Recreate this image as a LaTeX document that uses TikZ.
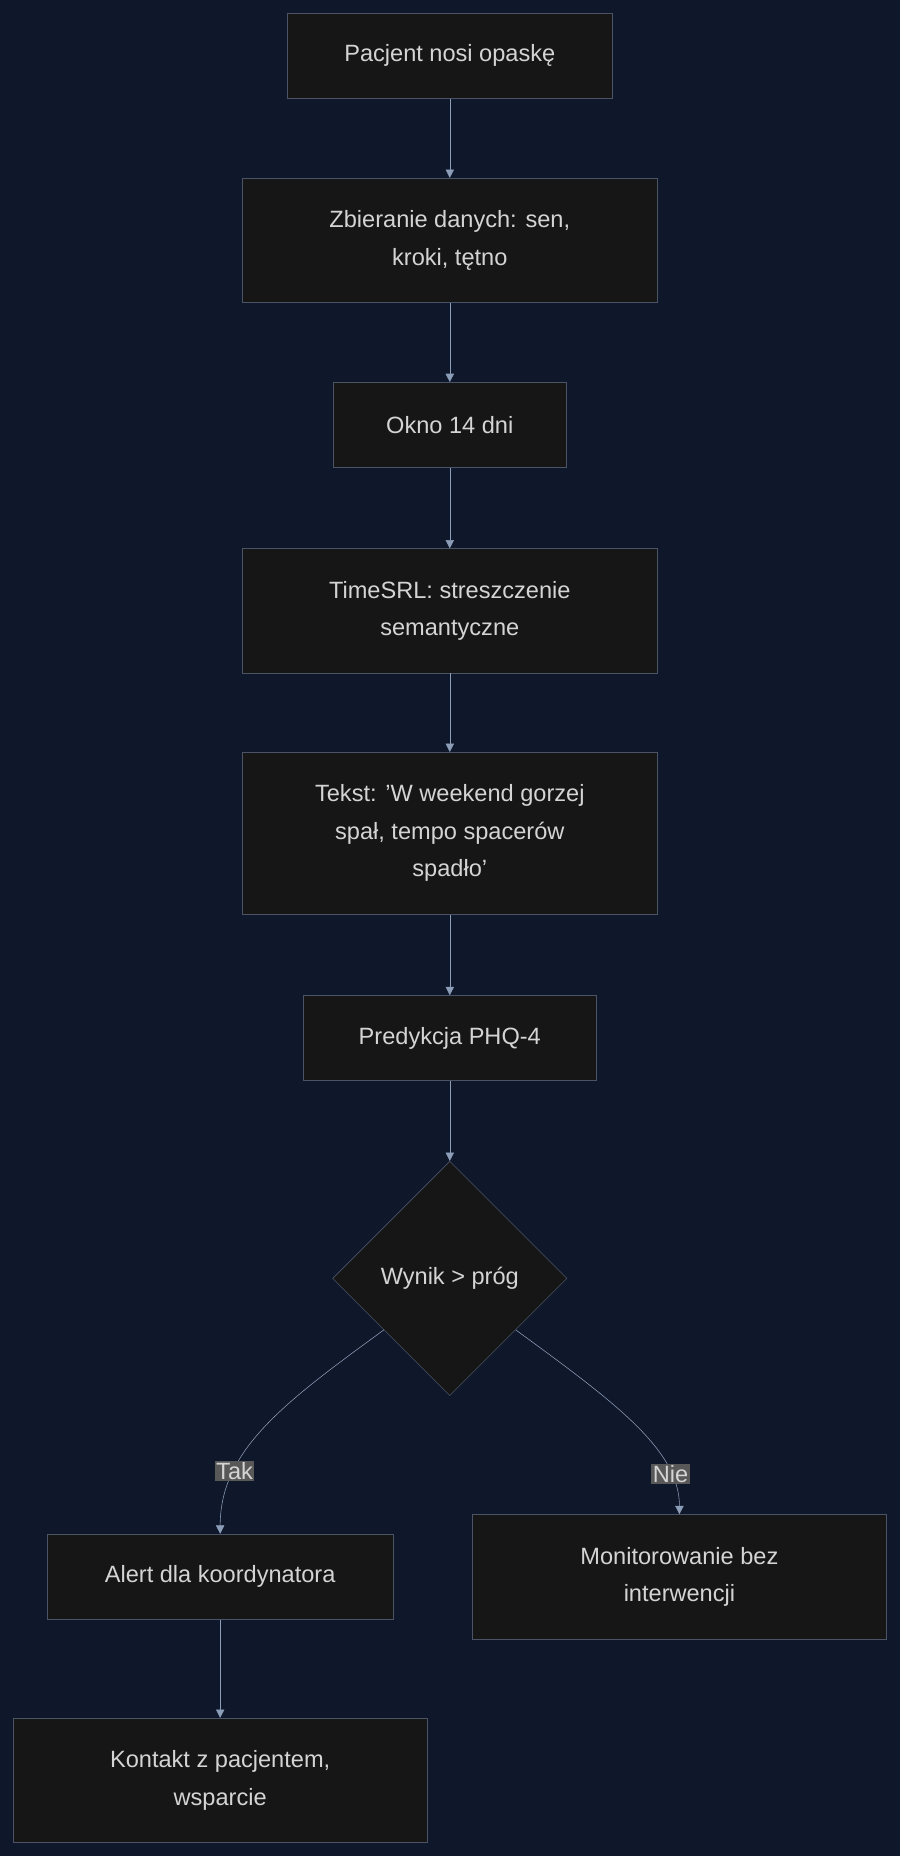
\documentclass[tikz,border=0pt]{standalone}
\usepackage{fontspec}
\setmainfont{Liberation Sans}
\usetikzlibrary{arrows.meta, positioning, shapes.geometric}
\definecolor{bgcol}{HTML}{0F172A}
\definecolor{boxcol}{HTML}{161616}
\definecolor{edgecol}{HTML}{4A5466}
\definecolor{txtcol}{HTML}{D4D4D4}
\definecolor{arrcol}{HTML}{8C9DB8}
\definecolor{lblcol}{HTML}{585858}
\begin{document}
\begin{tikzpicture}[x=0.03cm, y=-0.03cm, >={Triangle[length=6pt, width=6pt]},
        block/.style={rectangle, draw=edgecol, fill=boxcol, text=txtcol, align=center, font=\fontsize{17}{27}\selectfont, minimum width=10.5cm, minimum height=2.16cm, inner sep=0pt},
        dec_block/.style={diamond, draw=edgecol, fill=boxcol, text=txtcol, font=\fontsize{17}{27}\selectfont, minimum width=5.94cm, minimum height=5.94cm, inner sep=0pt},
        lbl/.style={fill=lblcol, text=txtcol, font=\fontsize{17}{20}\selectfont, inner sep=1pt},
        line/.style={draw=arrcol, ->}]

        % Background
        \fill [bgcol] (0,0) rectangle (760,1568);

        % Nodes
        \node [block, minimum width=8.22cm] (wear) at (380,47) {Pacjent nosi opaskę};
        \node [block, minimum height=3.15cm] (collect) at (380,203) {Zbieranie danych: sen,\\kroki, tętno};
        \node [block, minimum width=5.91cm] (window) at (380,359) {Okno 14 dni};
        \node [block, minimum height=3.15cm] (timesrl) at (380,516) {TimeSRL: streszczenie\\semantyczne};
        \node [block, minimum height=4.11cm] (text) at (380,704) {Tekst: 'W weekend gorzej\\spał, tempo spacerów\\spadło'};
        \node [block, minimum width=7.44cm] (phq) at (380,877) {Predykcja PHQ-4};
        \node [dec_block] (score) at (380,1080) {Wynik > próg};
        \node [block, minimum width=8.76cm] (alert) at (186,1332) {Alert dla koordynatora};
        \node [block, minimum height=3.15cm] (monitor) at (574,1332) {Monitorowanie bez\\interwencji};
        \node [block, minimum height=3.15cm] (contact) at (186,1504) {Kontakt z pacjentem,\\wsparcie};

        % Paths
        \path [line] (wear) -- (collect);
        \path [line] (collect) -- (window);
        \path [line] (window) -- (timesrl);
        \path [line] (timesrl) -- (text);
        \path [line] (text) -- (phq);
        \path [line] (phq) -- (score);
        \path [line] (score.218) .. controls (240,1185) and (186,1225) .. (alert.north)
            node [lbl, pos=0.72] (yes) {Tak};
        \path [line] (score.322) .. controls (520,1185) and (574,1225) .. (monitor.north)
            node [lbl, pos=0.78] (no) {Nie};
        \path [line] (alert) -- (contact);
    \end{tikzpicture}
\end{document}
